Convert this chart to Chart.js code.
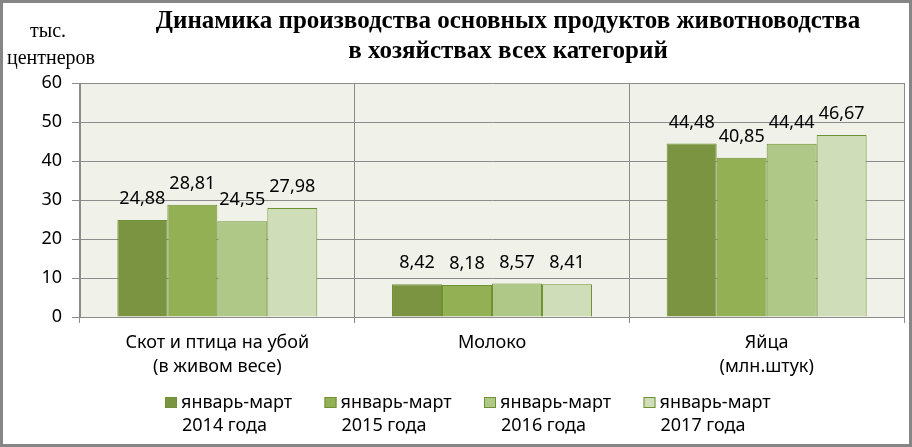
<!DOCTYPE html>
<html lang="ru">
<head>
<meta charset="utf-8">
<title>Динамика производства основных продуктов животноводства</title>
<script src="https://cdn.jsdelivr.net/npm/chart.js@4.4.1/dist/chart.umd.min.js"></script>
<style>
  html, body { margin: 0; padding: 0; background: #fff; }
  #wrap { position: relative; width: 912px; height: 447px; }
</style>
</head>
<body>
<div id="wrap"><canvas id="chart" width="912" height="447"></canvas></div>
<script>
// Chart data
const categories = [
  ['Скот и птица на убой', '(в живом весе)'],
  ['Молоко'],
  ['Яйца', '(млн.штук)']
];
const seriesLabels = [
  ['январь-март', '2014 года'],
  ['январь-март', '2015 года'],
  ['январь-март', '2016 года'],
  ['январь-март', '2017 года']
];
const values2014 = [24.88, 8.42, 44.48];
const values2015 = [28.81, 8.18, 40.85];
const values2016 = [24.55, 8.57, 44.44];
const values2017 = [27.98, 8.41, 46.67];
const titleLines = ['Динамика производства основных продуктов животноводства', 'в хозяйствах всех категорий'];
const unitLines = ['тыс.', 'центнеров'];

const barColors = ['#7A9441', '#93B054', '#AFC887', '#D0DDB9'];
const FONT = '"Noto Sans", sans-serif';

// Frame, plot background, title, unit label, value labels and legend
const decorPlugin = {
  id: 'decor',
  beforeDraw(chart) {
    const { ctx, chartArea: a } = chart;
    ctx.save();
    ctx.fillStyle = '#fff';
    ctx.fillRect(0, 0, chart.width, chart.height);
    ctx.fillStyle = '#F0F2EA';
    ctx.fillRect(a.left, a.top, a.right - a.left, a.bottom - a.top);
    ctx.restore();
  },
  afterDraw(chart) {
    const { ctx } = chart;
    ctx.save();

    // title
    ctx.fillStyle = '#000';
    ctx.textAlign = 'center';
    ctx.textBaseline = 'alphabetic';
    ctx.font = 'bold 25px "Liberation Serif", serif';
    ctx.fillText(titleLines[0], 508, 28);
    ctx.fillText(titleLines[1], 508, 58);

    // unit label
    ctx.font = '20px "Liberation Serif", serif';
    ctx.fillText(unitLines[0], 48, 37);
    ctx.fillText(unitLines[1], 51, 64);

    // value labels above bars
    ctx.font = '18px ' + FONT;
    chart.data.datasets.forEach((ds, i) => {
      chart.getDatasetMeta(i).data.forEach((bar, j) => {
        ctx.fillText(ds.data[j].toFixed(2).replace('.', ','), bar.x, bar.y - 16);
      });
    });

    // legend
    ctx.textAlign = 'left';
    ctx.textBaseline = 'middle';
    seriesLabels.forEach((lines, i) => {
      const x = 165 + i * 159.5;
      ctx.fillStyle = barColors[i];
      ctx.fillRect(x, 397, 12, 11);
      ctx.strokeStyle = '#6E9133';
      ctx.lineWidth = 1;
      ctx.strokeRect(x + 0.5, 397.5, 11, 10);
      ctx.fillStyle = '#000';
      ctx.fillText(lines[0], x + 16, 403);
      ctx.fillText(lines[1], x + 17, 426);
    });

    // outer frame
    ctx.strokeStyle = '#868686';
    ctx.lineWidth = 3;
    ctx.strokeRect(1.5, 1.5, chart.width - 3, chart.height - 3);
    ctx.restore();
  }
};

const datasets = [values2014, values2015, values2016, values2017].map((data, i) => ({
  label: seriesLabels[i].join(' '),
  data,
  backgroundColor: barColors[i],
  borderColor: '#6E9133',
  borderWidth: 1,
  categoryPercentage: 0.728,
  barPercentage: 1
}));

new Chart(document.getElementById('chart'), {
  type: 'bar',
  data: { labels: categories, datasets },
  options: {
    responsive: false,
    animation: false,
    devicePixelRatio: 1,
    layout: { padding: { top: 83, right: 8, left: 0, bottom: 0 } },
    plugins: {
      legend: { display: false },
      title: { display: false },
      tooltip: { enabled: false }
    },
    scales: {
      x: {
        afterFit(scale) { scale.height = 130; },
        grid: { color: '#8C8C8C', tickLength: 6, offset: true },
        border: { color: '#8C8C8C' },
        ticks: { color: '#000', font: { family: FONT, size: 18, lineHeight: 1.33 }, padding: 8 }
      },
      y: {
        min: 0,
        max: 60,
        afterFit(scale) { scale.width = 80; },
        grid: { color: '#8C8C8C', tickLength: 8 },
        border: { color: '#8C8C8C' },
        ticks: { stepSize: 10, color: '#000', font: { family: FONT, size: 18 }, padding: 10 }
      }
    }
  },
  plugins: [decorPlugin]
});
</script>
</body>
</html>
